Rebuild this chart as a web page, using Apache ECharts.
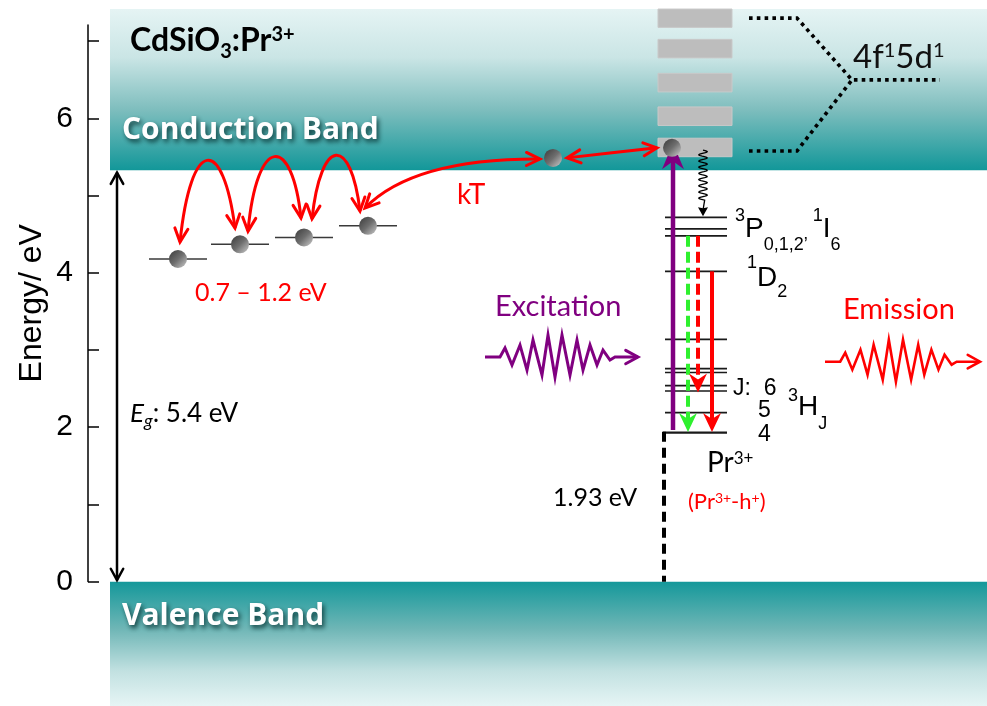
<!DOCTYPE html>
<html>
<head>
<meta charset="utf-8">
<title>CdSiO3:Pr3+ energy level scheme</title>
<script src="https://cdn.jsdelivr.net/npm/echarts@6.0.0/dist/echarts.min.js"></script>
<style>
html, body { margin: 0; padding: 0; background: #ffffff; }
#chart { width: 987px; height: 706px; }
</style>
</head>
<body>
<div id="chart"></div>
<script>
// ---------- energy axis (eV) ----------
const energyTicks = [0, 1, 2, 3, 4, 5, 6, 7];
const energyTickLabels = [0, 2, 4, 6];
const energyAxisTop = 7.21;

// ---------- host bands (eV) ----------
const valenceBandTop = 0;
const conductionBandBottom = 5.33;
const gapArrow = [0.02, 5.30];

// ---------- electron traps below the conduction band ----------
const trapColumn = [178, 240, 304, 368];
const trapEnergy = [4.18, 4.37, 4.46, 4.61];

// ---------- Pr3+ 4f1 5d1 sub-levels inside the conduction band (centres, eV) ----------
const fdEnergy = [7.30, 6.905, 6.465, 6.03, 5.625];
const fdLinkTop = [[749, 7.30], [797, 7.30], [852, 6.50], [940, 6.50]];
const fdLinkBottom = [[749, 5.58], [797, 5.58], [852, 6.50]];

// ---------- Pr3+ 4f2 multiplets (eV) ----------
const pEnergy = [4.72, 4.57, 4.48];                   // 3P0,1,2 / 1I6
const dEnergy = [4.02];                                // 1D2
const hEnergy = [3.14, 2.76, 2.71, 2.54, 2.47, 2.19];  // 3HJ / 3FJ
const groundEnergy = 1.93;                             // 3H4 above the valence band

// ---------- optical transitions ----------
const transitionColumn = [673, 688, 698, 712];
const transitionFrom = [1.965, 4.48, 4.48, 4.02];
const transitionTo = [5.68, 1.94, 2.45, 1.94];

// non-radiative relaxation 5d -> 3P
const relaxColumn = 703;
const relaxFrom = 5.59, relaxWaveEnd = 4.94, relaxTo = 4.735;

// ---------- electrons ----------
const electronColumn = trapColumn.concat([553, 672]);
const electronEnergy = trapEnergy.concat([5.49, 5.62]);

// ---------- thermal hopping arrows (start, controls, end) ----------
const hopStart = [[180, 4.40], [248, 4.54], [312, 4.70], [365, 4.84], [567, 5.49]];
const hopCtrlA = [[191, 5.78], [257, 5.80], [321, 5.78], [398, 5.28], null];
const hopCtrlB = [[223, 5.78], [292, 5.80], [351, 5.78], [457, 5.48], null];
const hopEnd = [[235, 4.58], [301, 4.71], [360, 4.80], [540, 5.475], [657, 5.62]];

// ---------- photons ----------
const photonStart = [485, 825];
const photonEnd = [638, 980];
const photonEnergy = [2.91, 2.85];

// ---------- labels ----------
const noteX = [130, 122, 122, 130, 195, 457, 495, 843, 853, 735, 747, 733, 758, 758, 788, 707, 688, 553];
const noteE = [7.01, 5.84, -0.445, 2.18, 3.735, 5.01, 3.56, 3.52, 6.79, 4.57, 3.93, 2.50, 2.22, 1.91, 2.26, 1.535, 1.03, 1.084];
const noteText = [
  '{m|CdSiO}{s|3}{m|:Pr}{p|3+}',
  '{m|Conduction Band}',
  '{m|Valence Band}',
  '{i|E}{is|g}{m|: 5.4 eV}',
  '{m|0.7 \u2013 1.2 eV}',
  '{m|kT}',
  '{m|Excitation}',
  '{m|Emission}',
  '{m|4f}{p|1}{m|5d}{p|1}',
  '{p|3}{m|P}{s|0,1,2}{s|\u2019 }{p|1}{m|I}{s|6}',
  '{p|1}{m|D}{s|2}',
  '{m|J:  6}',
  '{m|5}',
  '{m|4}',
  '{p|3}{m|H}{s|J}',
  '{m|Pr}{p|3+}',
  '{m|(Pr}{p|3+}{m|-h}{p|+}{m|)}',
  '{m|1.93 eV}'
];

// ---------- drawing styles ----------
const SANS = '"Liberation Sans", Arial, sans-serif';
const HUM = 'Lato, "Open Sans", sans-serif';
const BANDFONT = '"Open Sans", Lato, sans-serif';
const RED = '#ff0000';
const PURPLE = '#800080';
const GREEN = '#2ef02e';
const noteStyle = [
  { font: HUM, size: 32, small: 20, weight: 'bold', color: '#000', sup: -6, sub: 11 },
  { font: BANDFONT, size: 30, weight: 'bold', color: '#fff', shadow: true },
  { font: BANDFONT, size: 30, weight: 'bold', color: '#fff', shadow: true },
  { font: HUM, size: 26, small: 18, color: '#000', sub: 8 },
  { font: HUM, size: 25, color: RED },
  { font: HUM, size: 28, color: RED },
  { font: HUM, size: 29, color: PURPLE },
  { font: HUM, size: 29, color: RED },
  { font: HUM, size: 33, small: 20, color: '#111', sup: -7 },
  { font: SANS, size: 28, small: 18, color: '#000', sup: -13, sub: 16 },
  { font: SANS, size: 28, small: 18, color: '#000', sup: -15, sub: 14 },
  { font: SANS, size: 23, color: '#000' },
  { font: SANS, size: 23, color: '#000' },
  { font: SANS, size: 23, color: '#000' },
  { font: SANS, size: 28, small: 18, color: '#000', sup: -11, sub: 17 },
  { font: HUM, size: 28, small: 17, color: '#000', sup: -5 },
  { font: HUM, size: 22, small: 14, color: RED, sup: -4 },
  { font: HUM, size: 25, color: '#000' }
];

const X_RANGE = [0, 987];
const E_RANGE = [-1.61, 7.535];
const BAND_TOP = 7.418;
const BAND_X = [110, 987];
const PR_LEVEL_X = [665, 727];
const GROUND_X = [663, 727];
const TRAP_HALF = 29;
const FD_BOX_X = [658, 732];
const FD_BOX_HALF = 0.12;
const GAP_COLUMN = 117;
const GROUND_LINK_COLUMN = 664;
// zig-zag glyph of a photon, drawn over a 153 px long run
const ZIG_DX = [0, 15, 20, 27, 35, 42, 48, 57, 63, 70, 77, 85, 92, 98, 105, 112, 118, 125, 130, 153];
const ZIG_DY = [0, 0, -9, 8, -12, 13, -17, 18, -22, 20, -22, 18, -17, 13, -12, 8, -7, 3, 0, 0];

// ---------- helpers ----------
function unit(dx, dy) { const l = Math.hypot(dx, dy) || 1; return [dx / l, dy / l]; }

function openHead(tip, dir, len, spread, color, width) {
  const ang = Math.atan2(dir[1], dir[0]);
  const a1 = ang + Math.PI - spread, a2 = ang + Math.PI + spread;
  return {
    type: 'polyline',
    shape: { points: [[tip[0] + len * Math.cos(a1), tip[1] + len * Math.sin(a1)], tip,
                      [tip[0] + len * Math.cos(a2), tip[1] + len * Math.sin(a2)]] },
    style: { stroke: color, lineWidth: width, fill: null, lineJoin: 'miter', lineCap: 'round' }
  };
}

function solidHead(tip, dir, len, half, notch, color) {
  const nx = -dir[1], ny = dir[0];
  const bx = tip[0] - dir[0] * len, by = tip[1] - dir[1] * len;
  const mx = tip[0] - dir[0] * (len - notch), my = tip[1] - dir[1] * (len - notch);
  return {
    type: 'polygon',
    shape: { points: [tip, [bx + nx * half, by + ny * half], [mx, my], [bx - nx * half, by - ny * half]] },
    style: { fill: color }
  };
}

function richFor(s) {
  const L = 48;
  const base = { fontFamily: s.font, fontWeight: s.weight || 'normal', fill: s.color };
  if (s.shadow) {
    Object.assign(base, { textShadowColor: 'rgba(0,40,40,0.85)', textShadowBlur: 5, textShadowOffsetX: 2, textShadowOffsetY: 3 });
  }
  const small = s.small || s.size;
  const hp = 2 * (L / 2 + (s.sup || 0));
  const hs = 2 * (L / 2 - (s.sub || 0));
  return {
    m: Object.assign({}, base, { fontSize: s.size, lineHeight: L }),
    i: Object.assign({}, base, { fontSize: s.size, lineHeight: L, fontStyle: 'italic' }),
    p: Object.assign({}, base, { fontSize: small, height: hp, lineHeight: hp, verticalAlign: 'top' }),
    s: Object.assign({}, base, { fontSize: small, height: hs, lineHeight: hs, verticalAlign: 'bottom' }),
    is: Object.assign({}, base, { fontSize: small, height: hs, lineHeight: hs, verticalAlign: 'bottom', fontStyle: 'italic' })
  };
}

// level lines gathered from the level arrays
const levelX0 = [], levelX1 = [], levelE = [], levelW = [];
pEnergy.concat(dEnergy, hEnergy).forEach(function (e) {
  levelX0.push(PR_LEVEL_X[0]); levelX1.push(PR_LEVEL_X[1]); levelE.push(e); levelW.push(1.7);
});
levelX0.push(GROUND_X[0]); levelX1.push(GROUND_X[1]); levelE.push(groundEnergy); levelW.push(2.2);
trapColumn.forEach(function (x, i) {
  levelX0.push(x - TRAP_HALF); levelX1.push(x + TRAP_HALF); levelE.push(trapEnergy[i]); levelW.push(1.5);
});

function custom(z, data, renderItem) {
  return { type: 'custom', coordinateSystem: 'cartesian2d', xAxisIndex: 0, yAxisIndex: 0,
           silent: true, z: z, data: data, renderItem: renderItem };
}

const series = [
  // host bands
  custom(1, [[BAND_X[0], conductionBandBottom], [BAND_X[0], valenceBandTop]], function (params, api) {
    const cb = params.dataIndex === 0;
    const a = api.coord([BAND_X[0], cb ? BAND_TOP : valenceBandTop]);
    const b = api.coord([BAND_X[1], cb ? conductionBandBottom : E_RANGE[0]]);
    const stops = cb
      ? [{ offset: 0, color: '#e5f4f4' }, { offset: 0.3, color: '#cae5e5' }, { offset: 0.62, color: '#7fbebe' }, { offset: 1, color: '#129799' }]
      : [{ offset: 0, color: '#14989a' }, { offset: 0.38, color: '#6fb6b6' }, { offset: 0.72, color: '#c2e1e1' }, { offset: 1, color: '#e6f5f5' }];
    return { type: 'rect', shape: { x: a[0], y: a[1], width: b[0] - a[0], height: b[1] - a[1] },
             style: { fill: { type: 'linear', x: 0, y: 0, x2: 0, y2: 1, colorStops: stops } } };
  }),
  // 4f1 5d1 sub-levels
  custom(2, fdEnergy.map(function (e) { return [FD_BOX_X[0], e]; }), function (params, api) {
    const e = api.value(1);
    const a = api.coord([FD_BOX_X[0], Math.min(e + FD_BOX_HALF, BAND_TOP)]);
    const b = api.coord([FD_BOX_X[1], e - FD_BOX_HALF]);
    return { type: 'rect', shape: { x: a[0], y: a[1], width: b[0] - a[0], height: b[1] - a[1] },
             style: { fill: '#bdbdbd', stroke: '#c9c9c9', lineWidth: 1 } };
  }),
  // dotted links to the 4f1 5d1 configuration
  custom(3, [[0, 0], [1, 0]], function (params, api) {
    const pts = (params.dataIndex === 0 ? fdLinkTop : fdLinkBottom).map(function (p) { return api.coord(p); });
    return { type: 'polyline', shape: { points: pts },
             style: { stroke: '#000', lineWidth: 3.6, lineDash: [3.6, 4.2], fill: null } };
  }),
  // energy levels
  custom(3, levelE.map(function (e, i) { return [levelX0[i], e]; }), function (params, api) {
    const i = params.dataIndex;
    const a = api.coord([levelX0[i], levelE[i]]), b = api.coord([levelX1[i], levelE[i]]);
    return { type: 'line', shape: { x1: a[0], y1: a[1], x2: b[0], y2: b[1] },
             style: { stroke: i < 11 ? '#1a1a1a' : '#3a3a3a', lineWidth: levelW[i] } };
  }),
  // ground state height above the valence band
  custom(3, [[GROUND_LINK_COLUMN, groundEnergy]], function (params, api) {
    const a = api.coord([GROUND_LINK_COLUMN, groundEnergy]), b = api.coord([GROUND_LINK_COLUMN, valenceBandTop]);
    return { type: 'line', shape: { x1: a[0], y1: a[1] - 1, x2: b[0], y2: b[1] },
             style: { stroke: '#000', lineWidth: 4, lineDash: [10, 6] } };
  }),
  // band gap arrow
  custom(4, [[GAP_COLUMN, gapArrow[0]]], function (params, api) {
    const a = api.coord([GAP_COLUMN, gapArrow[0]]), b = api.coord([GAP_COLUMN, gapArrow[1]]);
    return { type: 'group', children: [
      { type: 'line', shape: { x1: a[0], y1: a[1], x2: b[0], y2: b[1] }, style: { stroke: '#000', lineWidth: 2.5 } },
      openHead(a, [0, 1], 13, 0.5, '#000', 2.5),
      openHead(b, [0, -1], 13, 0.5, '#000', 2.5)
    ] };
  }),
  // excitation and emission transitions
  custom(5, transitionColumn.map(function (x, i) { return [x, transitionFrom[i]]; }), function (params, api) {
    const i = params.dataIndex;
    const x = transitionColumn[i];
    const p0 = api.coord([x, transitionFrom[i]]), p1 = api.coord([x, transitionTo[i]]);
    const d = unit(p1[0] - p0[0], p1[1] - p0[1]);
    const color = i === 0 ? PURPLE : (i === 1 ? GREEN : RED);
    const big = i === 0;
    const len = big ? 26 : 19, half = big ? 11 : 9, notch = big ? 8 : 6;
    const end = [p1[0] - d[0] * (len - notch - 1), p1[1] - d[1] * (len - notch - 1)];
    const dashed = i === 1 || i === 2;
    return { type: 'group', children: [
      { type: 'line', shape: { x1: p0[0], y1: p0[1], x2: end[0], y2: end[1] },
        style: { stroke: color, lineWidth: big ? 4.5 : 4, lineDash: dashed ? [11, 5] : null } },
      solidHead(p1, d, len, half, notch, color)
    ] };
  }),
  // non-radiative relaxation
  custom(5, [[relaxColumn, relaxFrom]], function (params, api) {
    const t = api.coord([relaxColumn, relaxFrom]), m = api.coord([relaxColumn, relaxWaveEnd]);
    const tip = api.coord([relaxColumn, relaxTo]);
    const pts = [];
    for (let y = t[1]; y <= m[1]; y += 0.5) {
      pts.push([t[0] + 4.2 * Math.sin((y - t[1]) / 6.2 * 2 * Math.PI), y]);
    }
    pts.push([t[0], tip[1] - 6]);
    return { type: 'group', children: [
      { type: 'polyline', shape: { points: pts }, style: { stroke: '#000', lineWidth: 1.3, fill: null } },
      solidHead(tip, [0, 1], 9, 5, 1, '#000')
    ] };
  }),
  // thermal hopping between traps and the conduction band
  custom(6, hopStart, function (params, api) {
    const i = params.dataIndex;
    const p0 = api.coord(hopStart[i]), p3 = api.coord(hopEnd[i]);
    let c1, c2;
    if (hopCtrlA[i]) {
      c1 = api.coord(hopCtrlA[i]); c2 = api.coord(hopCtrlB[i]);
    } else {
      c1 = [p0[0] + (p3[0] - p0[0]) / 3, p0[1] + (p3[1] - p0[1]) / 3];
      c2 = [p0[0] + 2 * (p3[0] - p0[0]) / 3, p0[1] + 2 * (p3[1] - p0[1]) / 3];
    }
    const dEnd = unit(p3[0] - c2[0], p3[1] - c2[1]);
    const dStart = unit(p0[0] - c1[0], p0[1] - c1[1]);
    return { type: 'group', children: [
      { type: 'bezierCurve',
        shape: { x1: p0[0], y1: p0[1], x2: p3[0], y2: p3[1], cpx1: c1[0], cpy1: c1[1], cpx2: c2[0], cpy2: c2[1] },
        style: { stroke: RED, lineWidth: 3, fill: null } },
      openHead(p3, dEnd, 15, 0.45, RED, 3),
      openHead(p0, dStart, 15, 0.45, RED, 3)
    ] };
  }),
  // excitation / emission photons
  custom(5, photonStart.map(function (x, i) { return [x, photonEnergy[i]]; }), function (params, api) {
    const i = params.dataIndex;
    const a = api.coord([photonStart[i], photonEnergy[i]]), b = api.coord([photonEnd[i], photonEnergy[i]]);
    const k = (b[0] - a[0]) / 153;
    const pts = ZIG_DX.map(function (dx, j) { return [a[0] + dx * k, a[1] + ZIG_DY[j]]; });
    const color = i === 0 ? PURPLE : RED;
    const w = i === 0 ? 3 : 2.6;
    return { type: 'group', children: [
      { type: 'polyline', shape: { points: pts }, style: { stroke: color, lineWidth: w, fill: null, lineJoin: 'miter' } },
      openHead(b, [1, 0], 14, 0.5, color, w)
    ] };
  }),
  // electrons
  custom(7, electronColumn.map(function (x, i) { return [x, electronEnergy[i]]; }), function (params, api) {
    const c = api.coord([api.value(0), api.value(1)]);
    return { type: 'circle', shape: { cx: c[0], cy: c[1], r: 9 },
             style: { fill: { type: 'linear', x: 0, y: 0, x2: 1, y2: 1,
                              colorStops: [{ offset: 0, color: '#3a3a3a' }, { offset: 0.5, color: '#6e6e6e' }, { offset: 1, color: '#cdcdcd' }] } } };
  }),
  // labels
  custom(8, noteX.map(function (x, i) { return [x, noteE[i]]; }), function (params, api) {
    const i = params.dataIndex;
    const c = api.coord([noteX[i], noteE[i]]);
    return { type: 'text', x: c[0], y: c[1],
             style: { text: noteText[i], rich: richFor(noteStyle[i]), align: 'left', verticalAlign: 'middle' } };
  })
];

const chart = echarts.init(document.getElementById('chart'));
chart.setOption({
  animation: false,
  backgroundColor: '#ffffff',
  grid: [
    { left: 0, right: 0, top: 0, bottom: 0 },
    { left: 88, top: 25, width: 20, height: 556.6 }
  ],
  xAxis: [
    { type: 'value', gridIndex: 0, min: X_RANGE[0], max: X_RANGE[1], show: false },
    { type: 'value', gridIndex: 1, min: 0, max: 1, show: false }
  ],
  yAxis: [
    { type: 'value', gridIndex: 0, min: E_RANGE[0], max: E_RANGE[1], show: false },
    {
      type: 'value', gridIndex: 1, min: 0, max: energyAxisTop, interval: 1,
      name: 'Energy/ eV', nameLocation: 'middle', nameGap: 40,
      nameTextStyle: { fontFamily: SANS, fontSize: 32, color: '#000' },
      axisLine: { show: true, lineStyle: { color: '#000', width: 1.5 } },
      axisTick: { show: true, inside: true, length: 11, customValues: energyTicks, lineStyle: { color: '#000', width: 1.5 } },
      axisLabel: {
        show: true, margin: 15, fontFamily: SANS, fontSize: 30, color: '#000',
        customValues: energyTickLabels,
        formatter: function (v) { return energyTickLabels.indexOf(v) >= 0 ? String(v) : ''; }
      },
      splitLine: { show: false }
    }
  ],
  series: series
});
</script>
</body>
</html>
